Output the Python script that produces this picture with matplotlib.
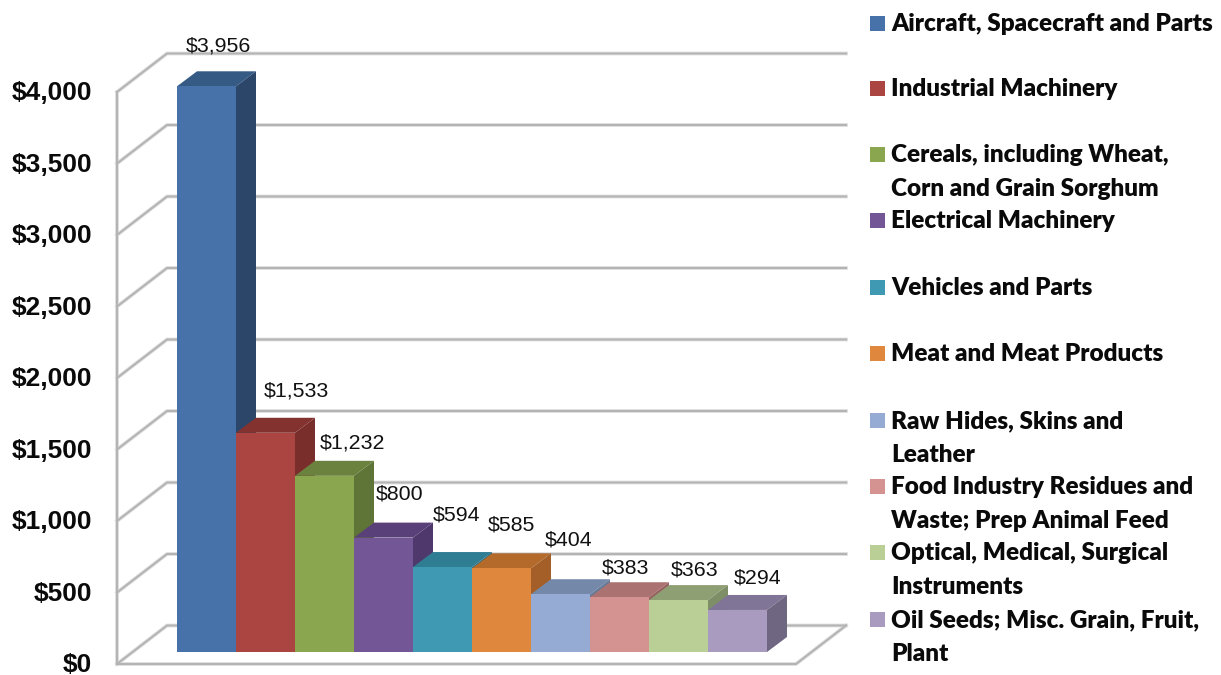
# 3D-look column chart of export values, drawn by hand on a 2D axes
import matplotlib
matplotlib.use('Agg')
import matplotlib.pyplot as plt
from matplotlib.patches import Polygon, Rectangle
from matplotlib.transforms import ScaledTranslation

# Data
categories = ['Aircraft, Spacecraft and Parts', 'Industrial Machinery',
              'Cereals, including Wheat,\nCorn and Grain Sorghum', 'Electrical Machinery',
              'Vehicles and Parts', 'Meat and Meat Products',
              'Raw Hides, Skins and\nLeather', 'Food Industry Residues and\nWaste; Prep Animal Feed',
              'Optical, Medical, Surgical\nInstruments', 'Oil Seeds; Misc. Grain, Fruit,\nPlant']
values = [3956, 1533, 1232, 800, 594, 585, 404, 383, 363, 294]
y_ticks = [0, 500, 1000, 1500, 2000, 2500, 3000, 3500, 4000]

front_colors = ['#4672A9', '#AB4542', '#8AA750', '#735696', '#3F99B2',
                '#DF873D', '#95ABD3', '#D49291', '#B9CF96', '#A99AC0']
top_colors = ['#355A84', '#84322F', '#6B823E', '#5A4079', '#2F7D93',
              '#B46A2A', '#7488AA', '#AA7270', '#8F9F74', '#807596']
side_colors = ['#2C4669', '#7A2E2B', '#5F7537', '#4F386B', '#2C6F83',
               '#A35F27', '#677A98', '#96615F', '#7E8E66', '#6F6782']

# label offsets from the front top centre of each bar, in pixels
label_dx = [12, 31, 28, 16, 14, 10, 8, 6, 16, 20]
label_dy = [40, 42, 33, 44, 52, 43, 54, 29, 30, 32]

W, H = 1221, 675
PX_PER_DOLLAR = 0.143
BAR_PX = 59
AX_LEFT, AX_RIGHT, AX_BOTTOM, AX_TOP = 117, 846, 664, 20

fig = plt.figure(figsize=(W / 100, H / 100), dpi=100)
ax = fig.add_axes([AX_LEFT / W, 1 - AX_BOTTOM / H, (AX_RIGHT - AX_LEFT) / W, (AX_BOTTOM - AX_TOP) / H])
ax.set_xlim((AX_LEFT - 206.5) / BAR_PX, (AX_RIGHT - 206.5) / BAR_PX)
ax.set_ylim(0, (AX_BOTTOM - AX_TOP) / PX_PER_DOLLAR)
ax.patch.set_visible(False)
for s in ax.spines.values():
    s.set_visible(False)
ax.set_xticks([])
ax.set_yticks(y_ticks)
ax.set_yticklabels(['${:,}'.format(t) for t in y_ticks], family='Liberation Sans', weight='bold',
                   fontsize=19, va='center_baseline', color='#0a0a0a')
ax.tick_params(axis='y', length=0, pad=18)
# nudge the tick labels up a little so $0 stays inside the picture
for lab in ax.get_yticklabels():
    lab.set_transform(lab.get_transform() + ScaledTranslation(0, 1 / 72, fig.dpi_scale_trans))


def dx(px):
    return px / BAR_PX


def dy(px):
    return px / PX_PER_DOLLAR


x_left = ax.get_xlim()[0]
x_right = ax.get_xlim()[1]
wall_dx, wall_dy = dx(50), dy(38.5)
grid_kw = dict(color='#b4b4b4', lw=1.5, solid_joinstyle='miter', clip_on=False, zorder=1)
shadow_kw = dict(color='#e2e2e2', lw=2.8, clip_on=False, zorder=0.5)

# back wall grid lines, with the slanted bit on the side wall
for t in y_ticks:
    xs = [x_left, x_left + wall_dx, x_right]
    ys = [t, t + wall_dy, t + wall_dy]
    ax.plot(xs, ys, **shadow_kw)
    ax.plot(xs, ys, **grid_kw)

# left wall edge and floor outline
ax.plot([x_left, x_left], [0, y_ticks[-1]], **shadow_kw)
ax.plot([x_left, x_left], [0, y_ticks[-1]], **grid_kw)
floor_x = [x_left, x_right - wall_dx, x_right]
floor_y = [0, 0, wall_dy]
ax.plot(floor_x, floor_y, **shadow_kw)
ax.plot(floor_x, floor_y, **grid_kw)

# bars
lift = dy(12)
depth_x, depth_y = dx(20), dy(15)
for i, v in enumerate(values):
    z = 3 + i
    l, r = i - 0.5, i + 0.5
    top = lift + v
    ax.add_patch(Polygon([(l, top), (r, top), (r + depth_x, top + depth_y), (l + depth_x, top + depth_y)],
                         facecolor=top_colors[i], edgecolor='none', zorder=z))
    ax.add_patch(Polygon([(r, lift), (r + depth_x, lift + depth_y), (r + depth_x, top + depth_y), (r, top)],
                         facecolor=side_colors[i], edgecolor='none', zorder=z))
    ax.bar(i, v, width=1.0, bottom=lift, color=front_colors[i], zorder=z)
    ax.annotate('${:,}'.format(v), (i, top), xytext=(label_dx[i] * 0.72, label_dy[i] * 0.72),
                textcoords='offset points', ha='center', va='center',
                family='Liberation Sans', fontsize=15.4, color='#111111', zorder=20)

# legend on the right, one entry every 66 pixels
legend_y = [23, 88, 154, 220, 287, 353, 420, 486, 552, 619]
for name, col, y in zip(categories, front_colors, legend_y):
    fig.patches.append(Rectangle((870 / W, 1 - (y + 8) / H), 15 / W, 15 / H, transform=fig.transFigure,
                                 facecolor=col, edgecolor='none'))
    fig.text(891 / W, 1 - (y - 10) / H, name, family='Lato', weight=800, fontsize=17.5,
             color='#0a0a0a', ha='left', va='top', linespacing=1.64)

fig.savefig('out.png', dpi=100)
